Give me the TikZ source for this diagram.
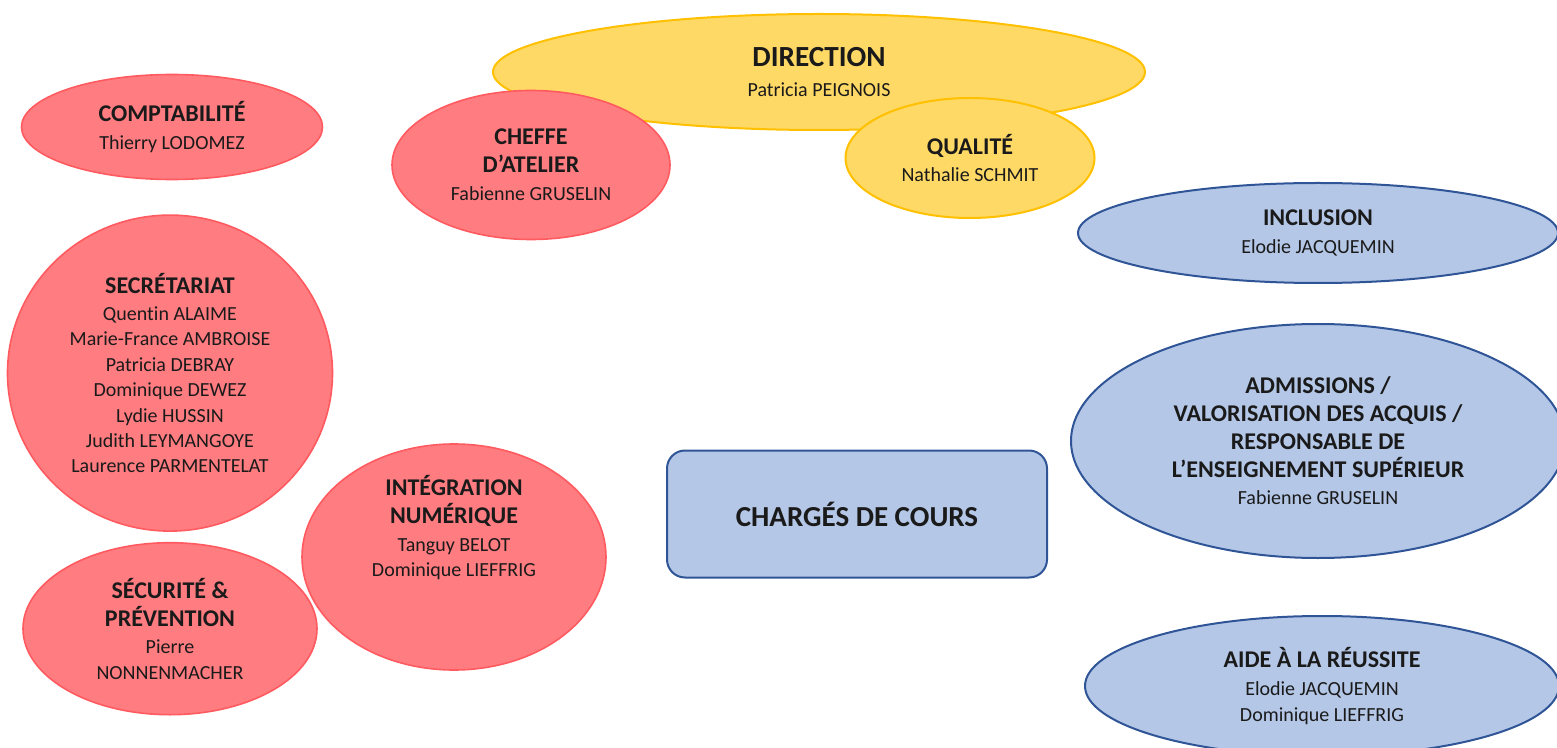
\documentclass[tikz,border=0pt]{standalone}
\usepackage{fontspec}
\setmainfont{Carlito}[Ligatures={TeX,NoCommon}]
\usepackage{tikz}
\usetikzlibrary{positioning, shapes.geometric}

\definecolor{redfill}{HTML}{FF7C80}
\definecolor{redline}{HTML}{FF5A5F}
\definecolor{yelfill}{HTML}{FFD966}
\definecolor{yelline}{HTML}{FFC000}
\definecolor{bluefill}{HTML}{B4C7E7}
\definecolor{blueline}{HTML}{2F5597}
\definecolor{ink}{HTML}{1A1A1A}

\newcommand{\titre}[1]{{\fontsize{12}{12.7}\selectfont\bfseries #1}}

\begin{document}
\begin{tikzpicture}[
    x=0.5pt, y=-0.5pt,
    font=\fontsize{10}{12.7}\selectfont,
    text=ink,
    unit/.style={
        ellipse, inner sep=0pt, align=center, line width=1pt
    },
    redunit/.style={unit, draw=redline, fill=redfill, line width=0.8pt},
    yelunit/.style={unit, draw=yelline, fill=yelfill},
    blueunit/.style={unit, draw=blueline, fill=bluefill},
    teachers/.style={
        rectangle, rounded corners=9pt, draw=blueline, fill=bluefill,
        line width=1pt, minimum width=190pt, minimum height=63.5pt,
        align=center
    },
    label/.style={align=center}
]
\useasboundingbox (0,0) rectangle (1557,748);

% ============ DIRECTION (top) ============
\node[yelunit, minimum width=326pt, minimum height=58pt] (dir) at (819,72)
    {{\fontsize{14.6}{15}\selectfont\bfseries DIRECTION}\\[2pt] Patricia PEIGNOIS};

\node[redunit, minimum width=139pt, minimum height=74.5pt] (cheffe) at (531,165)
    {\titre{CHEFFE}\\[1.2pt] \titre{D’ATELIER}\\[1.2pt] Fabienne GRUSELIN};

\node[yelunit, minimum width=124.5pt, minimum height=60pt] (qual) at (970,158)
    {\titre{QUALITÉ}\\[1.2pt] Nathalie SCHMIT};

% ============ LEFT COLUMN ============
\node[redunit, minimum width=150.5pt, minimum height=52.5pt] (compta) at (172,127)
    {\titre{COMPTABILITÉ}\\[1.2pt] Thierry LODOMEZ};

\node[redunit, minimum width=162.5pt, minimum height=158pt,
      below=17pt of compta.south, anchor=north, xshift=-1pt] (secr)
    {\titre{SECRÉTARIAT}\\[0.8pt] Quentin ALAIME\\ Marie-France AMBROISE\\
     Patricia DEBRAY\\ Dominique DEWEZ\\ Lydie HUSSIN\\
     Judith LEYMANGOYE\\ Laurence PARMENTELAT};

\node[redunit, minimum width=147pt, minimum height=86pt,
      below=5pt of secr.south, anchor=north] (secu)
    {\titre{SÉCURITÉ \&}\\[1.2pt] \titre{PRÉVENTION}\\[1.2pt] Pierre\\ NONNENMACHER};

\node[redunit, minimum width=152pt, minimum height=113pt] (integ) at (454,557) {};
\node[label] (integtxt) at (454,528)
    {\titre{INTÉGRATION}\\[1.2pt] \titre{NUMÉRIQUE}\\[1.2pt] Tanguy BELOT\\ Dominique LIEFFRIG};

% ============ CENTRE ============
\node[teachers] (cours) at (857,514)
    {\fontsize{14.5}{15}\selectfont\bfseries CHARGÉS DE COURS};

% ============ RIGHT COLUMN ============
\node[blueunit, minimum width=240pt, minimum height=50pt] (incl) at (1318,233)
    {\titre{INCLUSION}\\[1.2pt] Elodie JACQUEMIN};

\node[blueunit, minimum width=247pt, minimum height=117pt,
      below=19.5pt of incl.south, anchor=north] (adm)
    {\titre{ADMISSIONS /}\\[1.2pt] \titre{VALORISATION DES ACQUIS /}\\[1.2pt]
     \titre{RESPONSABLE DE}\\[1.2pt] \titre{L’ENSEIGNEMENT SUPÉRIEUR}\\[1.2pt]
     Fabienne GRUSELIN};

\node[blueunit, minimum width=237pt, minimum height=70pt,
      below=28pt of adm.south, anchor=north, xshift=2pt] (aide)
    {\titre{AIDE À LA RÉUSSITE}\\[1.2pt] Elodie JACQUEMIN\\ Dominique LIEFFRIG};

\end{tikzpicture}
\end{document}
